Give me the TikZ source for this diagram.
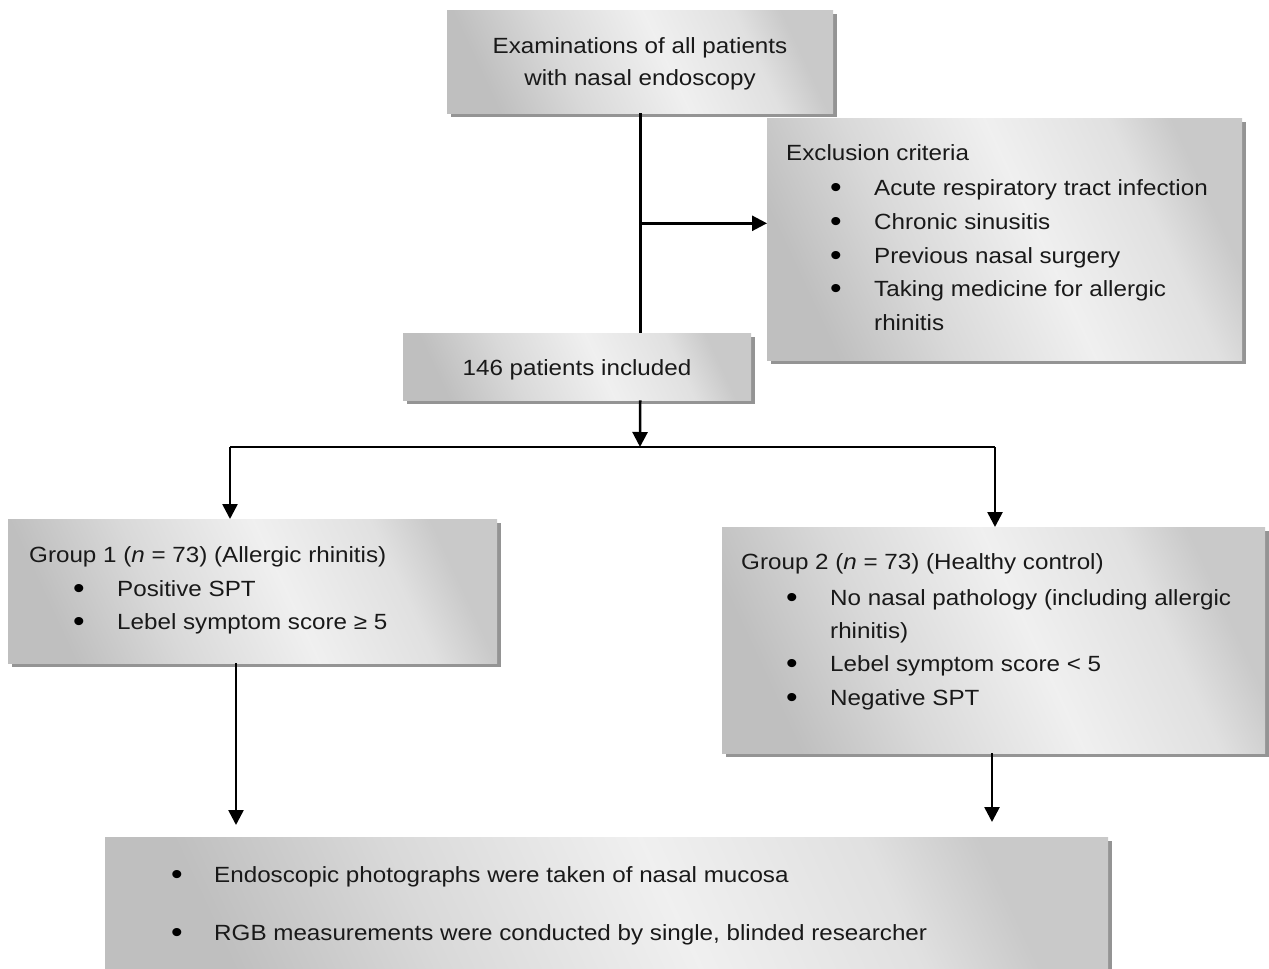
\documentclass[tikz,border=0pt]{standalone}
\usepackage{fontspec}
\setmainfont{Liberation Sans}[FakeStretch=1.1]
\usetikzlibrary{arrows.meta,shadows}
\pgfdeclarehorizontalshading{boxgrad}{100bp}{color(0bp)=(black!25); color(25bp)=(black!25); color(38bp)=(black!15); color(54bp)=(black!6); color(68bp)=(black!12); color(75bp)=(black!21); color(100bp)=(black!21)}
\begin{document}
\begin{tikzpicture}[x=1pt,y=-1pt,
  box/.style={shading=boxgrad, shading angle=25, draw=none, inner sep=0pt, anchor=north west,
    drop shadow={shadow xshift=3.5pt, shadow yshift=-3.5pt, fill=black!42, opacity=1}},
  txt/.style={inner sep=0pt, font=\fontsize{22}{34}\selectfont, anchor=base west, text=black!90},
  ctxt/.style={txt, anchor=base},
  bul/.style={inner sep=0pt, font=\fontsize{30}{34}\selectfont, anchor=base},
  conn/.style={line width=2.6pt, draw=black},
  arr/.style={conn, -{Triangle[length=15pt,width=15pt]}}]
\useasboundingbox (0,0) rectangle (1269,969);
% boxes
\node[box, minimum width=386pt, minimum height=103pt] (b1) at (447,10) {};
\node[box, minimum width=475pt, minimum height=242pt] (b2) at (767,118) {};
\node[box, minimum width=348pt, minimum height=67pt] (b3) at (403,333) {};
\node[box, minimum width=489pt, minimum height=144pt] (b4) at (8,519) {};
\node[box, minimum width=543pt, minimum height=226pt] (b5) at (722,527) {};
\node[box, minimum width=1003pt, minimum height=135pt] (b6) at (105,837) {};
% texts
\node[ctxt] (t1a) at (640,53.3) {Examinations of all patients};
\node[ctxt] (t1b) at (640,85) {with nasal endoscopy};
\node[txt] (t2) at (786,160.7) {Exclusion criteria};
\node[bul] (t2b1) at (836,197) {•};
\node[txt] (t2l1) at (874,195) {Acute respiratory tract infection};
\node[bul] (t2b2) at (836,231) {•};
\node[txt] (t2l2) at (874,229) {Chronic sinusitis};
\node[bul] (t2b3) at (836,265) {•};
\node[txt] (t2l3) at (874,263) {Previous nasal surgery};
\node[bul] (t2b4) at (836,298.7) {•};
\node[txt] (t2l4) at (874,296.7) {Taking medicine for allergic};
\node[txt] (t2l5) at (874,330) {rhinitis};
\node[ctxt] (t3) at (577,375) {146 patients included};
\node[txt] (t4) at (29,562.3) {Group 1 (\textit{n} = 73) (Allergic rhinitis)};
\node[bul] (t4b1) at (79,598) {•};
\node[txt] (t4l1) at (117,596) {Positive SPT};
\node[bul] (t4b2) at (79,631.5) {•};
\node[txt] (t4l2) at (117,629.5) {Lebel symptom score ≥ 5};
\node[txt] (t5) at (741,569.3) {Group 2 (\textit{n} = 73) (Healthy control)};
\node[bul] (t5b1) at (792,607) {•};
\node[txt] (t5l1) at (830,605) {No nasal pathology (including allergic};
\node[txt] (t5l2) at (830,638.3) {rhinitis)};
\node[bul] (t5b2) at (792,673.7) {•};
\node[txt] (t5l3) at (830,671.7) {Lebel symptom score < 5};
\node[bul] (t5b3) at (792,707) {•};
\node[txt] (t5l4) at (830,705) {Negative SPT};
\node[bul] (t6b1) at (177,884.7) {•};
\node[txt] (t6l1) at (214,882.7) {Endoscopic photographs were taken of nasal mucosa};
\node[bul] (t6b2) at (177,942) {•};
\node[txt] (t6l2) at (214,940) {RGB measurements were conducted by single, blinded researcher};
% connectors
\coordinate (br) at (640,223.3);
\coordinate (sp) at (640,447);
\coordinate (hl) at (230,447);
\coordinate (hr) at (995,447);
\coordinate (e4) at (236,825);
\coordinate (e5) at (992,822);
\draw[conn] (b1.south) -- (b1.south |- b3.north);
\draw[arr] (br) -- (br -| b2.west);
\draw[arr] (b1.south |- b3.south) -- (sp);
\draw[conn] (hl) -- (hr);
\draw[arr] (hl) -- (hl |- b4.north);
\draw[arr] (hr) -- (hr |- b5.north);
\draw[arr] (e4 |- b4.south) -- (e4);
\draw[arr] (e5 |- b5.south) -- (e5);
\end{tikzpicture}
\end{document}
